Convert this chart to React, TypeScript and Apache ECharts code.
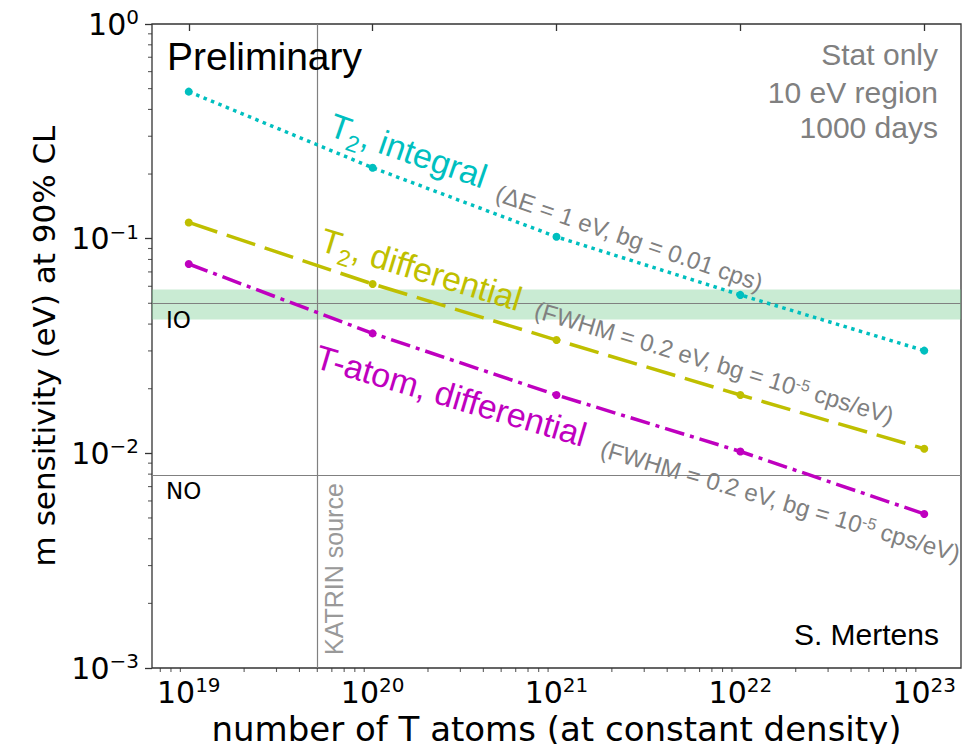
import React, { useEffect, useRef } from "react";
import * as echarts from "echarts";

// ---- data ----
const atomExponents = [19, 20, 21, 22, 23]; // number of T atoms = 10^e
const t2Integral = [0.484, 0.214, 0.102, 0.0547, 0.0301];
const t2Differential = [0.119, 0.0615, 0.0337, 0.0187, 0.0105];
const tAtomDifferential = [0.0762, 0.0362, 0.0187, 0.0102, 0.00522];
const ioBand = [0.042, 0.058];
const ioLine = 0.05;
const noLine = 0.008;
const katrinSource = 5e19;

const xMajorExponents = [19, 20, 21, 22, 23];
const yMajorExponents = [-3, -2, -1, 0];
const minorMultipliers = [2, 3, 4, 5, 6, 7, 8, 9];

const X_MIN = 18.8;
const X_MAX = 23.2;
const Y_MIN = -3;
const Y_MAX = 0;

const SANS = "'Liberation Sans', Arial, Helvetica, sans-serif";
const DJ = "'DejaVu Sans', sans-serif";
const CYAN = "#00bfbf";
const YELLOW = "#bfbf00";
const MAGENTA = "#bf00bf";
const GREY = "#808080";
const AXIS = "#333333";

const LABEL_FS = 34;
const SUB_FS = 23;
const NOTE_FS = 24;
const MINOR_LEN = 4;

function minorTicks(lo: number, hi: number): number[] {
  const out: number[] = [];
  for (let n = Math.floor(lo); n <= Math.ceil(hi); n++) {
    for (const k of minorMultipliers) {
      const v = n + Math.log10(k);
      if (v > lo && v < hi) out.push(v);
    }
  }
  return out;
}

function toPoints(values: number[]) {
  return atomExponents.map((e, i) => [e, Math.log10(values[i])]);
}

const tickRich = {
  b: { fontSize: 30, fontFamily: DJ, color: "#000", lineHeight: 34, verticalAlign: "middle" },
  s: { fontSize: 20, fontFamily: DJ, color: "#000", lineHeight: 20, verticalAlign: "top" },
};

// text placed by its baseline-left (or baseline-right) point; rotDeg counter-clockwise
function text(
  x: number,
  baseline: number,
  str: string,
  fontSize: number,
  color: string,
  family: string,
  align: string = "left",
  rotDeg = 0,
  rich?: any
) {
  return {
    type: "text",
    x,
    y: baseline,
    rotation: (rotDeg * Math.PI) / 180,
    silent: true,
    z: 100,
    style: {
      text: str,
      x: 0,
      y: -0.8465 * fontSize,
      fill: color,
      fontSize,
      fontFamily: family,
      align,
      verticalAlign: "top",
      lineHeight: fontSize,
      rich,
    },
  };
}

// "T" + subscript 2 + rest, rotated clockwise by rot degrees, as separate text pieces
function t2Label(x: number, y: number, rot: number, rest: string, color: string) {
  const r = (rot * Math.PI) / 180;
  const dx = Math.cos(r), dy = Math.sin(r);
  const nx = -Math.sin(r), ny = Math.cos(r);
  const wT = 0.611 * LABEL_FS;
  const w2 = 0.556 * SUB_FS;
  const drop = 8;
  return [
    text(x, y, "T", LABEL_FS, color, SANS, "left", -rot),
    text(x + dx * wT + nx * drop, y + dy * wT + ny * drop, "2", SUB_FS, color, SANS, "left", -rot),
    text(x + dx * (wT + w2), y + dy * (wT + w2), rest, LABEL_FS, color, SANS, "left", -rot),
  ];
}

function greyNote(x: number, y: number, rot: number, str: string) {
  const rich = {
    g: { fontSize: NOTE_FS, fontFamily: SANS, fill: GREY, lineHeight: NOTE_FS, verticalAlign: "top" },
    sup: { fontSize: 16, fontFamily: SANS, fill: GREY, lineHeight: 16, verticalAlign: "top" },
  };
  return text(x, y, str, NOTE_FS, GREY, SANS, "left", -rot, rich);
}

export default function App() {
  const ref = useRef<HTMLDivElement>(null);

  useEffect(() => {
    if (!ref.current) return;
    const chart = echarts.init(ref.current, undefined, { renderer: "svg" });
    const xMinor = minorTicks(X_MIN, X_MAX);
    const yMinor = minorTicks(Y_MIN, Y_MAX);

    const lineSeries = (name: string, values: number[], color: string, dash: number[]) => ({
      type: "line",
      name,
      data: toPoints(values),
      symbol: "circle",
      symbolSize: 8,
      showSymbol: true,
      lineStyle: { color, width: 3.5, type: dash, cap: "butt" },
      itemStyle: { color },
      z: 5,
    });

    const option: any = {
      animation: false,
      backgroundColor: "#ffffff",
      grid: {
        left: 152,
        right: 18,
        top: 24,
        bottom: 84,
        show: true,
        borderColor: AXIS,
        borderWidth: 1.3,
        backgroundColor: "transparent",
        containLabel: false,
        outerBoundsMode: "none",
      },
      xAxis: {
        type: "value",
        min: X_MIN,
        max: X_MAX,
        position: "bottom",
        axisLine: { show: false },
        splitLine: { show: false },
        axisTick: { show: true, length: 7, customValues: xMajorExponents, lineStyle: { color: AXIS, width: 1.3 } },
        axisLabel: {
          customValues: xMajorExponents,
          margin: 7,
          formatter: (v: number) => `{b|10}{s|${v}}`,
          rich: tickRich,
        },
        name: "number of T atoms (at constant density)",
        nameLocation: "middle",
        nameGap: 39,
        nameTextStyle: { fontSize: 34, fontFamily: DJ, color: "#000" },
      },
      yAxis: {
        type: "value",
        min: Y_MIN,
        max: Y_MAX,
        position: "left",
        axisLine: { show: false },
        splitLine: { show: false },
        axisTick: { show: true, length: 7, customValues: yMajorExponents, lineStyle: { color: AXIS, width: 1.3 } },
        axisLabel: {
          customValues: yMajorExponents,
          margin: 13,
          formatter: (v: number) => (v === 0 ? "{b|10}{s|0}" : `{b|10}{s|\u2212${-v}}`),
          rich: tickRich,
        },
        name: "m sensitivity (eV) at 90% CL",
        nameLocation: "middle",
        nameGap: 93,
        nameTextStyle: { fontSize: 31, fontFamily: DJ, color: "#000" },
      },
      series: [
        {
          type: "line",
          name: "references",
          data: [],
          z: 1,
          markArea: {
            silent: true,
            itemStyle: { color: "rgba(120, 205, 145, 0.4)" },
            data: [[{ yAxis: Math.log10(ioBand[0]) }, { yAxis: Math.log10(ioBand[1]) }]],
          },
          markLine: {
            silent: true,
            symbol: "none",
            label: { show: false },
            lineStyle: { color: GREY, width: 1.2, type: "solid" },
            data: [
              { yAxis: Math.log10(ioLine) },
              { yAxis: Math.log10(noLine) },
              { xAxis: Math.log10(katrinSource) },
            ],
          },
        },
        {
          type: "scatter",
          name: "x minor ticks",
          silent: true,
          clip: false,
          data: xMinor.map((v) => [v, Y_MIN]),
          symbol: "rect",
          symbolSize: [1.1, MINOR_LEN],
          symbolOffset: [0, MINOR_LEN / 2],
          itemStyle: { color: AXIS },
          z: 2,
        },
        {
          type: "scatter",
          name: "y minor ticks",
          silent: true,
          clip: false,
          data: yMinor.map((v) => [X_MIN, v]),
          symbol: "rect",
          symbolSize: [MINOR_LEN, 1.1],
          symbolOffset: [-MINOR_LEN / 2, 0],
          itemStyle: { color: AXIS },
          z: 2,
        },
        lineSeries("T2, integral", t2Integral, CYAN, [3.5, 4.5]),
        lineSeries("T2, differential", t2Differential, YELLOW, [30, 10]),
        lineSeries("T-atom, differential", tAtomDifferential, MAGENTA, [20, 6, 4, 6]),
      ],
      graphic: [
        text(167, 70, "Preliminary", 39, "#000", SANS),
        text(938, 65, "Stat only", 30, GREY, SANS, "right"),
        text(938, 103, "10 eV region", 30, GREY, SANS, "right"),
        text(938, 138, "1000 days", 30, GREY, SANS, "right"),
        text(939, 645, "S. Mertens", 30, "#000", SANS, "right"),
        text(166, 328, "IO", 23, "#000", DJ),
        text(166, 499, "NO", 23, "#000", DJ),
        text(343, 655, "KATRIN source", 25, "#999999", SANS, "left", 90),
        ...t2Label(327, 135, 19, ", integral", CYAN),
        ...t2Label(318, 250, 17, ", differential", YELLOW),
        text(313, 367, "T-atom, differential", LABEL_FS, MAGENTA, SANS, "left", -16.5),
        greyNote(494, 200, 19, "{g|(\u0394E = 1 eV, bg = 0.01 cps)}"),
        greyNote(533, 317, 16.7, "{g|(FWHM = 0.2 eV, bg = 10}{sup|-5}{g| cps/eV)}"),
        greyNote(599, 456, 16.5, "{g|(FWHM = 0.2 eV, bg = 10}{sup|-5}{g| cps/eV)}"),
      ],
    };

    chart.setOption(option);
    return () => chart.dispose();
  }, []);

  return <div ref={ref} style={{ width: 979, height: 752, margin: -8 }} />;
}
